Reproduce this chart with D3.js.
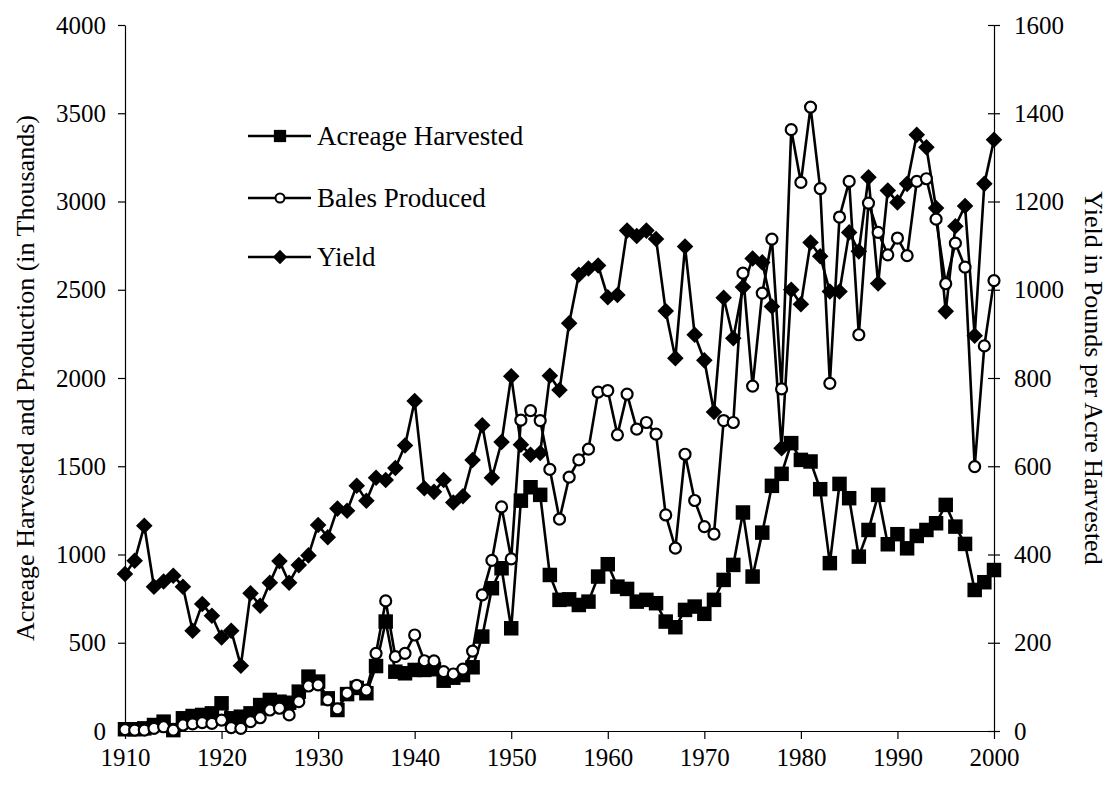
<!DOCTYPE html>
<html>
<head>
<meta charset="utf-8">
<script src="https://cdn.jsdelivr.net/npm/d3@7"></script>
<style>
  body { margin: 0; background: #fff; }
  svg { display: block; font-family: "Liberation Serif", "DejaVu Serif", serif; }
  .axis path, .axis line { stroke: #000; stroke-width: 1.2; }
  .axis text { font-size: 25px; fill: #000; font-family: "Liberation Serif", serif; }
</style>
</head>
<body>
<div class="chart"></div>
<script>
// Data.
const years = d3.range(1910, 2001);

// Acreage harvested (thousands of acres), left axis.
const acreage = [
  10, 10, 15, 34, 53, 5, 72, 85, 91, 100,
  157, 72, 81, 100, 147, 176, 166, 160, 223, 308,
  280, 185, 119, 209, 244, 214, 368, 620, 336, 327,
  346, 346, 350, 285, 302, 317, 361, 535, 809, 922,
  582, 1305, 1381, 1338, 884, 743, 746, 714, 733, 875,
  945, 818, 805, 733, 743, 724, 620, 588, 686, 705,
  664, 743, 856, 941, 1238, 875, 1124, 1389, 1457, 1631,
  1536, 1527, 1370, 951, 1400, 1319, 988, 1139, 1338, 1058,
  1115, 1035, 1105, 1139, 1177, 1281, 1158, 1060, 799, 843,
  912
];

// Bales produced (thousands), left axis.
const bales = [
  8, 5, 5, 15, 24, 5, 34, 40, 47, 43,
  62, 19, 15, 53, 75, 119, 129, 91, 166, 255,
  261, 176, 125, 214, 259, 232, 440, 737, 421, 440,
  544, 398, 397, 336, 323, 351, 453, 771, 967, 1270,
  975, 1761, 1815, 1759, 1482, 1200, 1438, 1536, 1597, 1920,
  1929, 1678, 1909, 1710, 1748, 1682, 1224, 1036, 1568, 1306,
  1158, 1116, 1759, 1748, 2594, 1954, 2481, 2787, 1938, 3407,
  3108, 3535, 3073, 1970, 2912, 3114, 2245, 2991, 2825, 2698,
  2793, 2693, 3114, 3129, 2900, 2534, 2764, 2628, 1498, 2182,
  2552
];

// Yield (pounds per acre harvested), right axis.
const yieldLbs = [
  356, 386, 465, 327, 339, 352, 327, 227, 288, 261,
  212, 227, 148, 312, 284, 336, 385, 336, 376, 398,
  467, 439, 504, 499, 556, 522, 574, 569, 596, 647,
  748, 550, 542, 569, 518, 532, 614, 693, 574, 655,
  804, 649, 626, 630, 805, 773, 924, 1034, 1048, 1055,
  983, 988, 1134, 1122, 1134, 1115, 952, 845, 1098, 898,
  840, 723, 982, 890, 1006, 1071, 1062, 962, 641, 1000,
  967, 1107, 1076, 996, 996, 1130, 1087, 1255, 1014, 1225,
  1198, 1240, 1351, 1323, 1185, 951, 1144, 1190, 896, 1240,
  1340
];

const seriesNames = ['Acreage Harvested', 'Bales Produced', 'Yield'];
const leftTicks = [0, 500, 1000, 1500, 2000, 2500, 3000, 3500, 4000];
const rightTicks = [0, 200, 400, 600, 800, 1000, 1200, 1400, 1600];
const yearTicks = d3.range(1910, 2001, 10);

// Margin convention.
const W = 1109, H = 785;
const margin = {top: 25, right: 115, bottom: 54, left: 125};
const width = W - margin.left - margin.right;
const height = H - margin.top - margin.bottom;

// Scales.
const xScale = d3.scaleLinear().domain([1910, 2000]).range([0, width]);
const yLeft = d3.scaleLinear().domain([0, 4000]).range([height, 0]);
const yRight = d3.scaleLinear().domain([0, 1600]).range([height, 0]);

const svg = d3.select('.chart')
  .append('svg')
  .attr('width', W)
  .attr('height', H)
  .append('g')
  .attr('transform', `translate(${margin.left},${margin.top})`);

// Axes.
svg.append('g')
  .attr('class', 'x axis')
  .attr('transform', `translate(0,${height})`)
  .call(d3.axisBottom(xScale).tickValues(yearTicks).tickFormat(d3.format('d'))
    .tickSizeInner(8).tickSizeOuter(0).tickPadding(9));

svg.append('g')
  .attr('class', 'y axis')
  .call(d3.axisLeft(yLeft).tickValues(leftTicks).tickFormat(d3.format('d'))
    .tickSizeInner(7).tickSizeOuter(0).tickPadding(12));

const rightAxis = svg.append('g')
  .attr('class', 'y2 axis')
  .attr('transform', `translate(${width},0)`)
  .call(d3.axisRight(yRight).tickValues(rightTicks).tickFormat(d3.format('d'))
    .tickSizeInner(6).tickSizeOuter(0).tickPadding(14));

// Cross tick marks on the right axis.
rightAxis.selectAll('.tick line').attr('x1', -6).attr('x2', 6);

// Axis titles.
svg.append('text')
  .attr('transform', `translate(${-97},${height / 2}) rotate(-90)`)
  .attr('text-anchor', 'middle')
  .attr('dominant-baseline', 'middle')
  .style('font-size', '26px')
  .text('Acreage Harvested and Production (in Thousands)');

svg.append('text')
  .attr('transform', `translate(${width + 97},${height / 2}) rotate(90)`)
  .attr('text-anchor', 'middle')
  .attr('dominant-baseline', 'middle')
  .style('font-size', '26px')
  .text('Yield in Pounds per Acre Harvested');

// Marker shapes.
const squareSym = d3.symbol().type(d3.symbolSquare);
const diamondSym = d3.symbol().type(d3.symbolDiamond2);

function drawLine(values, yScale) {
  const line = d3.line()
    .x((d, i) => xScale(years[i]))
    .y(d => yScale(d));
  svg.append('path')
    .datum(values)
    .attr('fill', 'none')
    .attr('stroke', '#000')
    .attr('stroke-width', 2.6)
    .attr('stroke-linejoin', 'round')
    .attr('d', line);
}

// Yield (diamonds).
drawLine(yieldLbs, yRight);
svg.append('g')
  .selectAll('path')
  .data(yieldLbs)
  .join('path')
  .attr('transform', (d, i) => `translate(${xScale(years[i])},${yRight(d)})`)
  .attr('d', diamondSym.size(175)())
  .attr('fill', '#000');

// Acreage (squares).
drawLine(acreage, yLeft);
svg.append('g')
  .selectAll('path')
  .data(acreage)
  .join('path')
  .attr('transform', (d, i) => `translate(${xScale(years[i])},${yLeft(d)})`)
  .attr('d', squareSym.size(210)())
  .attr('fill', '#000');

// Bales (open circles).
drawLine(bales, yLeft);
svg.append('g')
  .selectAll('circle')
  .data(bales)
  .join('circle')
  .attr('cx', (d, i) => xScale(years[i]))
  .attr('cy', d => yLeft(d))
  .attr('r', 5.5)
  .attr('fill', '#fff')
  .attr('stroke', '#000')
  .attr('stroke-width', 2.2);

// Legend.
const legendRows = [136, 198, 257];
const legend = svg.append('g')
  .attr('transform', `translate(${248 - margin.left},${-margin.top})`);

seriesNames.forEach((name, i) => {
  const row = legend.append('g').attr('transform', `translate(0,${legendRows[i]})`);
  row.append('line')
    .attr('x1', 0).attr('x2', 63)
    .attr('stroke', '#000').attr('stroke-width', 2.6);
  if (i === 0) {
    row.append('path').attr('transform', 'translate(32,0)')
      .attr('d', squareSym.size(150)()).attr('fill', '#000');
  } else if (i === 1) {
    row.append('circle').attr('cx', 32).attr('r', 4.5)
      .attr('fill', '#fff').attr('stroke', '#000').attr('stroke-width', 2);
  } else {
    row.append('path').attr('transform', 'translate(32,0)')
      .attr('d', diamondSym.size(130)()).attr('fill', '#000');
  }
  row.append('text')
    .attr('x', 69)
    .attr('dy', '0.33em')
    .style('font-size', '27px')
    .text(name);
});
</script>
</body>
</html>
